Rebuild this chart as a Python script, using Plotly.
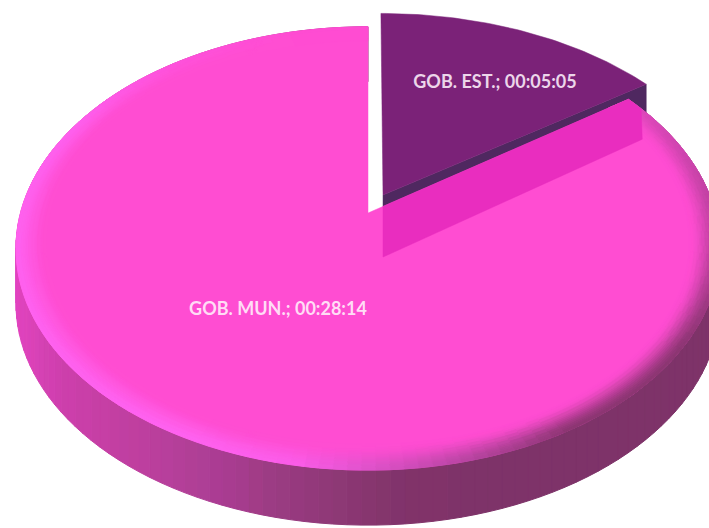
import numpy as np
import plotly.graph_objects as go

# ---- data -------------------------------------------------------------
categories = ["GOB. EST.", "GOB. MUN."]
durations = ["00:05:05", "00:28:14"]
colors = {"GOB. EST.": "#7b2278", "GOB. MUN.": "#ff4dd2"}


def to_seconds(s):
    h, m, sec = s.split(":")
    return int(h) * 3600 + int(m) * 60 + int(sec)


seconds = [to_seconds(d) for d in durations]
sweep_small = 360.0 * seconds[0] / sum(seconds)

# ---- projection of the pie disc onto the page (3-D perspective look) ----
AX, AY = 368.0, 213.0
W, H, K, M = 347.5, 216.0, 0.16, 0.0
DEPTH = 55.0
EXPLODE = 0.095
SMALL_X_SCALE = 1.028


def project(u, v):
    w = 1 + K * v + M * u
    return AX + W * u / w, AY - H * v / w


def disc(theta_deg, r=1.0):
    t = np.radians(theta_deg)
    return r * np.sin(t), r * np.cos(t)


def main_pt(theta, r=1.0):
    return project(*disc(theta, r))


bis = np.radians(sweep_small / 2)
ex_u, ex_v = EXPLODE * np.sin(bis), EXPLODE * np.cos(bis)


def small_pt(theta, r=1.0):
    u, v = disc(theta, r)
    x, y = project(u + ex_u, v + ex_v)
    ax, _ = project(ex_u, ex_v)
    return ax + (x - ax) * SMALL_X_SCALE, y


def sweep_range(a, b, step):
    return np.append(np.arange(a, b, step), b)


def lerp_keys(keys, t):
    xs = [k[0] for k in keys]
    return tuple(float(np.interp(t, xs, [k[1][i] for k in keys])) for i in range(3))


def hexq(c, q=3):
    return "#%02x%02x%02x" % tuple(int(min(255, round(v / q) * q)) for v in c)


SIDE_KEYS = [(15, (226, 66, 192)), (60, (205, 64, 172)), (130, (192, 64, 160)),
             (200, (176, 62, 150)), (300, (148, 58, 125)), (400, (128, 52, 106)),
             (709, (125, 51, 104))]
RIM_KEYS = [(54, (225, 72, 190)), (90, (190, 65, 160)), (125, (140, 53, 114)),
            (150, (140, 53, 114)), (190, (250, 92, 232)), (205, (255, 98, 240)),
            (295, (255, 96, 238)), (320, (255, 82, 220)), (345, (255, 77, 210)), (360, (255, 77, 210))]
BASE = (255, 77, 210)

fig = go.Figure()
layers = {}


def add_poly(color, xs, ys):
    b = layers.setdefault(color, ([], []))
    b[0].extend(list(xs) + [xs[0], None])
    b[1].extend(list(ys) + [ys[0], None])


def flush_layers():
    for c, (xs, ys) in layers.items():
        fig.add_trace(go.Scatter(x=xs, y=ys, mode="lines", fill="toself", fillcolor=c,
                                 line=dict(color=c, width=1), hoverinfo="skip", showlegend=False))
    layers.clear()


def solid(color, pts):
    xs = [p[0] for p in pts] + [pts[0][0]]
    ys = [p[1] for p in pts] + [pts[0][1]]
    fig.add_trace(go.Scatter(x=xs, y=ys, mode="lines", fill="toself", fillcolor=color,
                             line=dict(color=color, width=0.5), hoverinfo="skip", showlegend=False))


# ---- outer wall of the big slice ----
thetas = sweep_range(sweep_small, 360.0, 2.0)
for a, b in zip(thetas[:-1], thetas[1:]):
    x0, y0 = main_pt(a)
    x1, y1 = main_pt(b)
    add_poly(hexq(lerp_keys(SIDE_KEYS, (x0 + x1) / 2)),
             [x0, x1, x1, x0], [y0, y1, y1 + DEPTH, y0 + DEPTH])
flush_layers()

# ---- cut wall of the small slice (seen above the big slice) ----
sax, say = small_pt(0, 0)
scx, scy = small_pt(sweep_small)
WALL_A, WALL_C = 62.0, 55.0
solid("#4f2860", [(sax, say), (scx, scy), (scx, scy + WALL_C), (sax, say + WALL_A)])

# ---- top of the big slice ----
arc = sweep_range(sweep_small, 360.0, 1.0)
solid(colors["GOB. MUN."], [main_pt(0, 0)] + [main_pt(t) for t in arc])

# bevel along the rim of the big slice
rings = np.linspace(1.0, 0.915, 18)
segs = sweep_range(sweep_small, 360.0, 2.0)
for i in range(len(rings) - 1):
    mix = ((i + 0.5) / (len(rings) - 1))
    mix = mix * mix * (3 - 2 * mix)
    for a, b in zip(segs[:-1], segs[1:]):
        edge = lerp_keys(RIM_KEYS, (a + b) / 2)
        c = tuple(edge[j] * (1 - mix) + BASE[j] * mix for j in range(3))
        p = [main_pt(a, rings[i]), main_pt(b, rings[i]), main_pt(b, rings[i + 1]), main_pt(a, rings[i + 1])]
        add_poly(hexq(c, 2), [q[0] for q in p], [q[1] for q in p])
flush_layers()

# ---- wall of the small slice showing through the big slice ----
mcx, mcy = main_pt(sweep_small)
mx0, my0 = main_pt(0, 0)
edge_y = my0 + (mcy - my0) * (sax - mx0) / (mcx - mx0)
ghost_right = scx - 4
ghost = [(sax, edge_y), (mcx, mcy)]
for t in np.arange(sweep_small, sweep_small + 40, 0.5):
    p = main_pt(t)
    if p[0] >= ghost_right:
        break
    ghost.append(p)
ghost += [(ghost_right, scy + WALL_C), (sax, say + WALL_A)]
solid("#e92dbf", ghost)

# ---- top of the small slice ----
arc_s = sweep_range(0.0, sweep_small, 1.0)
solid(colors["GOB. EST."], [small_pt(0, 0)] + [small_pt(t) for t in arc_s])

# ---- labels ----
label_x = [495, 278]
label_y = [83, 310]
fig.add_trace(go.Scatter(
    x=label_x, y=label_y, mode="text",
    text=[f"{c}; {d}" for c, d in zip(categories, durations)],
    textposition="middle center",
    textfont=dict(family="Lato", size=18, weight=700, color=["#ecd6ea", "#ffdcf5"]),
    hoverinfo="skip", showlegend=False))

fig.update_layout(
    width=709, height=528, margin=dict(l=0, r=0, t=0, b=0),
    paper_bgcolor="white", plot_bgcolor="white", showlegend=False,
    xaxis=dict(range=[0, 709], visible=False, fixedrange=True),
    yaxis=dict(range=[528, 0], visible=False, fixedrange=True),
)
fig.write_html("out.html", post_script="document.body.style.margin='0';", config={"displayModeBar": False})
